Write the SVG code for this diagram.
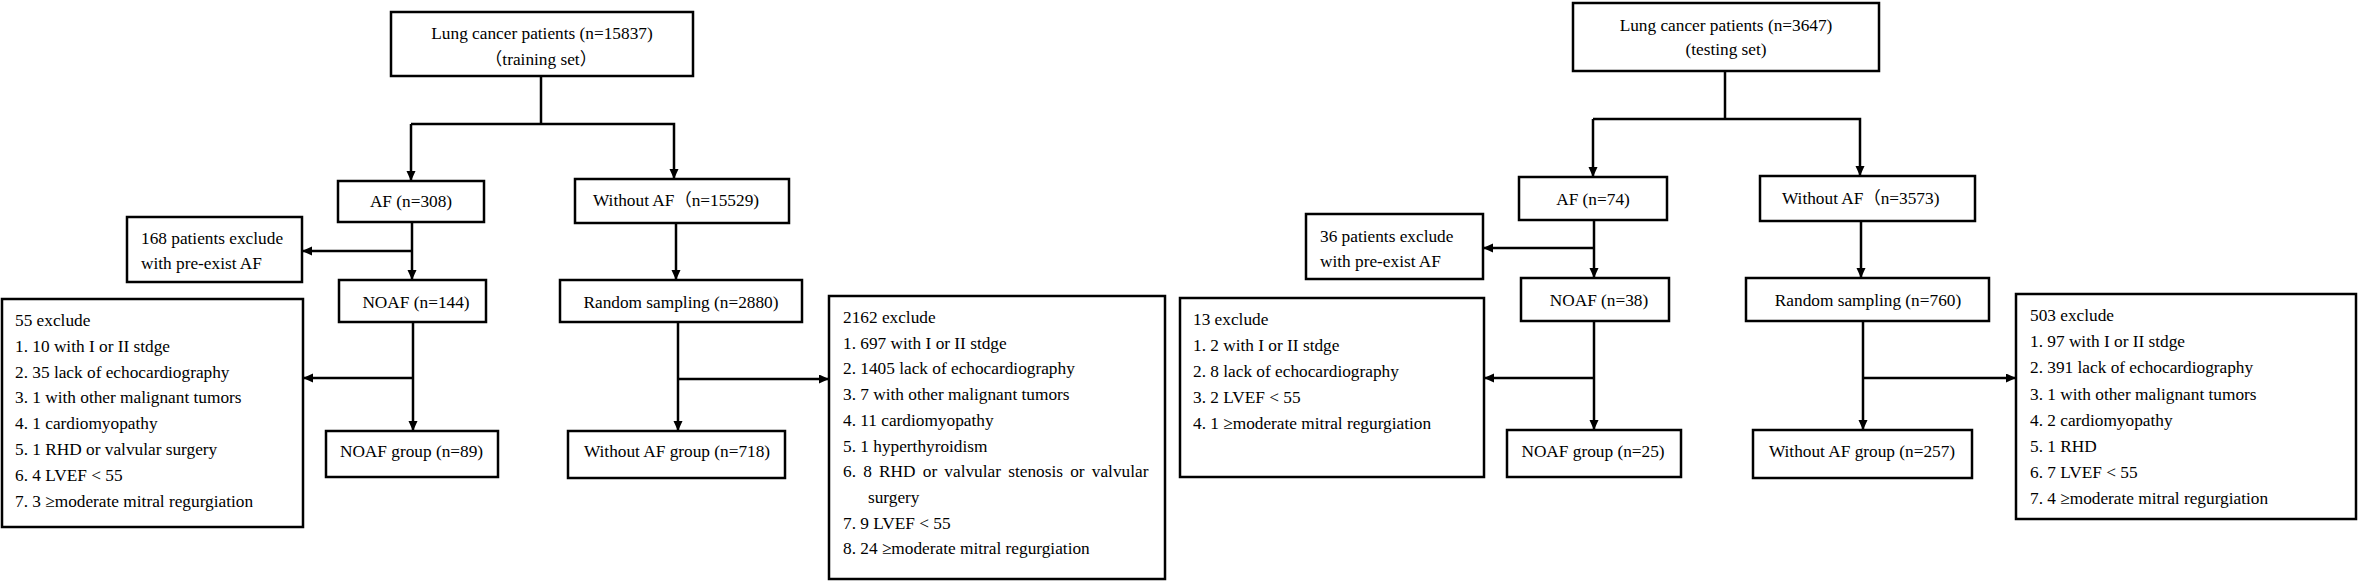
<svg xmlns="http://www.w3.org/2000/svg" width="2360" height="582" viewBox="0 0 2360 582">
<style>
  rect.box { fill: #ffffff; stroke: #000000; stroke-width: 2.5; }
  text { font-family: "Liberation Serif", "Times New Roman", "Noto Sans CJK SC", serif; font-size: 17.3px; fill: #000000; }
  .c { text-anchor: middle; }
  .conn path { fill: none; stroke: #000000; stroke-width: 2.5; }
  .arr { marker-end: url(#ah); }
</style>
<defs>
  <marker id="ah" markerUnits="userSpaceOnUse" markerWidth="11" markerHeight="10" refX="10" refY="4.5" orient="auto">
    <path d="M0,0 L10,4.5 L0,9 z" fill="#000000"/>
  </marker>
</defs>
<rect x="0" y="0" width="2360" height="582" fill="#ffffff"/>

<g class="conn" id="connectors">
  <!-- training set -->
  <path d="M541,76 V124"/>
  <path class="arr" d="M411,124 H674 V179"/>
  <path class="arr" d="M411,124 V181"/>
  <path class="arr" d="M412,222 V280"/>
  <path class="arr" d="M412,251 H302"/>
  <path class="arr" d="M413,322 V431"/>
  <path class="arr" d="M413,378 H303"/>
  <path class="arr" d="M676,223 V280"/>
  <path class="arr" d="M678,322 V431"/>
  <path class="arr" d="M678,379 H829"/>
  <!-- testing set -->
  <path d="M1725,71 V119"/>
  <path class="arr" d="M1593,119 H1860 V176"/>
  <path class="arr" d="M1593,119 V177"/>
  <path class="arr" d="M1594,220 V278"/>
  <path class="arr" d="M1594,248 H1483"/>
  <path class="arr" d="M1594,321 V430"/>
  <path class="arr" d="M1594,378 H1484"/>
  <path class="arr" d="M1861,221 V278"/>
  <path class="arr" d="M1863,321 V430"/>
  <path class="arr" d="M1863,378 H2016"/>
</g>

<!-- ===== Training set ===== -->
<g id="train-top">
  <rect class="box" x="391" y="12" width="302" height="64"/>
  <text class="c" x="542" y="39">Lung cancer patients (n=15837)</text>
  <text class="c" x="541" y="65">（training set）</text>
</g>
<g id="train-af">
  <rect class="box" x="338" y="181" width="146" height="41"/>
  <text class="c" x="411" y="207">AF (n=308)</text>
</g>
<g id="train-withoutaf">
  <rect class="box" x="575" y="179" width="214" height="44"/>
  <text x="593" y="206">Without AF（n=15529)</text>
</g>
<g id="train-preexist">
  <rect class="box" x="127" y="217" width="175" height="65"/>
  <text x="141" y="244">168 patients exclude</text>
  <text x="141" y="269">with pre-exist AF</text>
</g>
<g id="train-noaf">
  <rect class="box" x="339" y="280" width="147" height="42"/>
  <text class="c" x="416" y="308">NOAF (n=144)</text>
</g>
<g id="train-exclude55">
  <rect class="box" x="2" y="299" width="301" height="228"/>
  <text x="15" y="326">55 exclude</text>
  <text x="15" y="351.8">1. 10 with I or II stdge</text>
  <text x="15" y="377.6">2. 35 lack of echocardiography</text>
  <text x="15" y="403.4">3. 1 with other malignant tumors</text>
  <text x="15" y="429.2">4. 1 cardiomyopathy</text>
  <text x="15" y="455">5. 1 RHD or valvular surgery</text>
  <text x="15" y="480.8">6. 4 LVEF &lt; 55</text>
  <text x="15" y="506.6">7. 3 ≥moderate mitral regurgiation</text>
</g>
<g id="train-noafgroup">
  <rect class="box" x="326" y="431" width="172" height="46"/>
  <text class="c" x="411.5" y="457">NOAF group (n=89)</text>
</g>
<g id="train-random">
  <rect class="box" x="560" y="280" width="242" height="42"/>
  <text class="c" x="681" y="308">Random sampling (n=2880)</text>
</g>
<g id="train-withoutafgroup">
  <rect class="box" x="568" y="431" width="217" height="47"/>
  <text class="c" x="677" y="457">Without AF group (n=718)</text>
</g>
<g id="train-exclude2162">
  <rect class="box" x="829" y="296" width="336" height="283"/>
  <text x="843" y="323">2162 exclude</text>
  <text x="843" y="348.7">1. 697 with I or II stdge</text>
  <text x="843" y="374.4">2. 1405 lack of echocardiography</text>
  <text x="843" y="400.1">3. 7 with other malignant tumors</text>
  <text x="843" y="425.8">4. 11 cardiomyopathy</text>
  <text x="843" y="451.5">5. 1 hyperthyroidism</text>
  <text x="843" y="477.2" word-spacing="2.9">6. 8 RHD or valvular stenosis or valvular</text>
  <text x="868" y="502.9">surgery</text>
  <text x="843" y="528.6">7. 9 LVEF &lt; 55</text>
  <text x="843" y="554.3">8. 24 ≥moderate mitral regurgiation</text>
</g>

<!-- ===== Testing set ===== -->
<g id="test-top">
  <rect class="box" x="1573" y="3" width="306" height="68"/>
  <text class="c" x="1726" y="31">Lung cancer patients (n=3647)</text>
  <text class="c" x="1726" y="55">(testing set)</text>
</g>
<g id="test-af">
  <rect class="box" x="1519" y="177" width="148" height="43"/>
  <text class="c" x="1593" y="205">AF (n=74)</text>
</g>
<g id="test-withoutaf">
  <rect class="box" x="1760" y="176" width="215" height="45"/>
  <text x="1782" y="204">Without AF（n=3573)</text>
</g>
<g id="test-preexist">
  <rect class="box" x="1306" y="214" width="177" height="65"/>
  <text x="1320" y="242">36 patients exclude</text>
  <text x="1320" y="267">with pre-exist AF</text>
</g>
<g id="test-noaf">
  <rect class="box" x="1521" y="278" width="148" height="43"/>
  <text class="c" x="1599" y="306">NOAF (n=38)</text>
</g>
<g id="test-exclude13">
  <rect class="box" x="1180" y="298" width="304" height="179"/>
  <text x="1193" y="325">13 exclude</text>
  <text x="1193" y="351">1. 2 with I or II stdge</text>
  <text x="1193" y="377">2. 8 lack of echocardiography</text>
  <text x="1193" y="403">3. 2 LVEF &lt; 55</text>
  <text x="1193" y="429">4. 1 ≥moderate mitral regurgiation</text>
</g>
<g id="test-noafgroup">
  <rect class="box" x="1507" y="430" width="174" height="47"/>
  <text class="c" x="1593" y="457">NOAF group (n=25)</text>
</g>
<g id="test-random">
  <rect class="box" x="1746" y="278" width="243" height="43"/>
  <text class="c" x="1868" y="306">Random sampling (n=760)</text>
</g>
<g id="test-withoutafgroup">
  <rect class="box" x="1753" y="430" width="219" height="48"/>
  <text class="c" x="1862" y="457">Without AF group (n=257)</text>
</g>
<g id="test-exclude503">
  <rect class="box" x="2016" y="294" width="340" height="225"/>
  <text x="2030" y="321">503 exclude</text>
  <text x="2030" y="347.2">1. 97 with I or II stdge</text>
  <text x="2030" y="373.4">2. 391 lack of echocardiography</text>
  <text x="2030" y="399.6">3. 1 with other malignant tumors</text>
  <text x="2030" y="425.8">4. 2 cardiomyopathy</text>
  <text x="2030" y="452">5. 1 RHD</text>
  <text x="2030" y="478.2">6. 7 LVEF &lt; 55</text>
  <text x="2030" y="504.4">7. 4 ≥moderate mitral regurgiation</text>
</g>
</svg>
